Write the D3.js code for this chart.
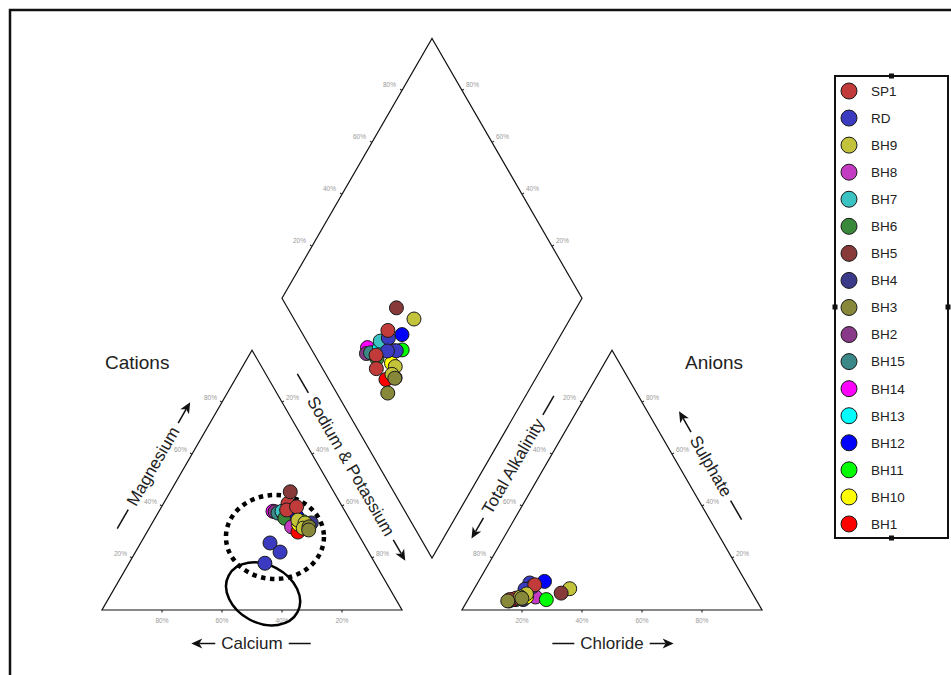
<!DOCTYPE html>
<html><head><meta charset="utf-8">
<script src="https://cdn.jsdelivr.net/npm/d3@7/dist/d3.min.js"></script>
<style>
body{margin:0;background:#fff}
svg{display:block}
text{font-family:"Liberation Sans",Arial,sans-serif}
</style>
</head><body>
<svg id="chart" width="951" height="675"></svg>
<script>
// ---------- DATA ----------
const samples = ["SP1","RD","BH9","BH8","BH7","BH6","BH5","BH4","BH3","BH2","BH15","BH14","BH13","BH12","BH11","BH10","BH1"];
const sampleColors = ["#c23b3b","#3b3bc2","#c2c23b","#c23bc2","#3bc2c2","#3a883a","#883a3a","#3a3a88","#88883a","#883a88","#3a8888","#ff00ff","#00ffff","#0000ff","#00ff00","#ffff00","#ff0000"];
const tickValues = [20,40,60,80];
const tickLabels = ["20%","40%","60%","80%"];

// one entry per analysed water sample (percent of meq)
const pointSample = ["BH14","BH2","BH15","BH13","BH7","BH6","BH4","BH8","BH1","BH12","BH11","BH10","RD","RD","RD","SP1","SP1","SP1","BH9","BH9","BH9","BH3","BH3","BH5"];
const calcium     = [24.0,23.4,22.7,21.0,21.0,21.4,13.5,20.8,19.7,17.0,16.0,18.0,31.1,29.5,36.7,17.5,19.2,15.3,17.4,15.6,17.2,15.0,15.7,14.5];
const magnesium   = [38.0,37.8,37.3,37.0,38.0,35.3,33.5,32.0,30.0,36.0,34.0,33.0,25.8,22.3,18.0,41.0,38.5,39.7,34.6,33.5,31.5,32.0,30.8,45.5];
const sodiumPot   = [38.0,38.8,40.0,42.0,41.0,43.3,53.0,47.2,50.3,47.0,50.0,49.0,43.1,48.2,45.3,41.5,42.3,45.0,48.0,50.9,51.3,53.0,53.5,40.0];
const alkalinity  = [81.0,82.5,81.0,77.0,75.5,80.0,77.6,73.0,81.0,67.0,69.9,76.0,72.2,72.0,75.0,70.9,79.6,82.1,60.0,75.4,78.0,77.8,83.0,63.7];
const sulphate    = [ 4.0, 3.5, 4.0, 5.0, 6.0, 4.0, 4.0, 5.0, 4.0,11.0, 4.0, 5.0,10.4, 9.0, 8.0, 9.7, 4.6, 4.0, 8.2, 6.2, 5.0, 4.5, 3.5, 6.5];
const chloride    = [15.0,14.0,15.0,18.0,18.5,16.0,18.4,22.0,15.0,22.0,26.1,19.0,17.4,19.0,17.0,19.4,15.8,13.9,31.8,18.4,17.0,17.7,13.5,29.8];

// annotation ellipses (centres given as cation composition: Mg %, Na+K %)
const dottedZone = {mg:28.1, nak:43.6};
const solidZone  = {mg:6.2,  nak:50.6};

// ---------- LAYOUT ----------
const svg = d3.select("#chart");
const W = 951, H = 675;
const S60 = Math.sin(Math.PI/3);
const side = d3.scaleLinear().domain([0,100]).range([0,300]);
const baseY = 610, catX0 = 102, gap = 60;
const anX0 = catX0 + side(100) + gap;
const diaLX = catX0 + side(100)/2 + gap/2;
const diaLY = baseY - (gap/2)*Math.tan(Math.PI/3) - side(100)*S60;

const catXY = (mg, nak) => [catX0 + side(nak) + side(mg)/2, baseY - side(mg)*S60];
const anXY  = (so4, cl) => [anX0 + side(cl) + side(so4)/2, baseY - side(so4)*S60];
const diaXY = (nak, alk) => {
  const a = side(nak), b = side(100 - alk);
  return [diaLX + a/2 + b/2, diaLY + (a - b)*S60];
};

svg.append("rect").attr("width",W).attr("height",H).attr("fill","#fff");
// outer frame
svg.append("rect").attr("x",10).attr("y",10).attr("width",W+20).attr("height",H+20)
  .attr("fill","none").attr("stroke","#111").attr("stroke-width",2.5);

const line = d3.line();
const outline = pts => svg.append("path").attr("d", line(pts) + "Z")
  .attr("fill","none").attr("stroke","#111").attr("stroke-width",1.2).attr("stroke-linejoin","miter");

outline([catXY(0,0), catXY(0,100), catXY(100,0)]);
outline([anXY(0,0), anXY(0,100), anXY(100,0)]);
outline([diaXY(0,100), diaXY(100,100), diaXY(100,0), diaXY(0,0)]);

// ---------- TICKS ----------
const tickG = svg.append("g");
function tick(p, dx, dy, anchor, lx, ly, label){
  tickG.append("line").attr("x1",p[0]).attr("y1",p[1]).attr("x2",p[0]+dx).attr("y2",p[1]+dy)
    .attr("stroke","#333").attr("stroke-width",1.2);
  tickG.append("text").attr("x",p[0]+lx).attr("y",p[1]+ly).attr("text-anchor",anchor)
    .style("font-size","6.5px").attr("fill","#999").text(label);
}
tickValues.forEach((v,i)=>{
  const lab = tickLabels[i];
  tick(catXY(v,0), -2, -1.2, "end", -5, -2.5, lab);          // Mg
  tick(catXY(0,100-v), 0, 2.5, "middle", 0, 12.5, lab);      // Ca
  tick(catXY(100-v, v), 2, -1.2, "start", 4, -2.5, lab);     // Na+K
  tick(anXY(100-v,0), -2, -1.2, "end", -6, -2.5, lab);       // alkalinity
  tick(anXY(0,v), 0, 2.5, "middle", 0, 12.5, lab);           // chloride
  tick(anXY(v,100-v), 2, -1.2, "start", 4, -2.5, lab);       // sulphate
  tick(diaXY(0,100-v), -2, -1.2, "end", -6, -3, lab);        // Cl+SO4
  tick(diaXY(100-v,0), 2, -1.2, "start", 4, -3, lab);        // Ca+Mg
});

// ---------- ANNOTATIONS ----------
{
  const c = catXY(dottedZone.mg, dottedZone.nak);
  svg.append("ellipse").attr("cx",c[0]).attr("cy",c[1]).attr("rx",49).attr("ry",42)
    .attr("fill","none").attr("stroke","#000").attr("stroke-width",4.5).attr("stroke-dasharray","4.5,4.5");
  const s = catXY(solidZone.mg, solidZone.nak);
  svg.append("ellipse").attr("cx",0).attr("cy",0).attr("rx",39).attr("ry",29)
    .attr("transform",`translate(${s[0]},${s[1]}) rotate(28)`)
    .attr("fill","none").attr("stroke","#000").attr("stroke-width",2.5);
}

// ---------- POINTS ----------
const colorOf = d3.scaleOrdinal().domain(samples).range(sampleColors);
const pts = pointSample.map((s,i)=>({s, ca:calcium[i], mg:magnesium[i], nak:sodiumPot[i], alk:alkalinity[i], so4:sulphate[i], cl:chloride[i]}));
const R = 7;
const drawDots = (fn) => svg.append("g").selectAll("circle").data(pts).join("circle")
  .attr("cx",d=>fn(d)[0]).attr("cy",d=>fn(d)[1]).attr("r",R)
  .attr("fill",d=>colorOf(d.s)).attr("stroke","#1a1a1a").attr("stroke-width",1);
drawDots(d=>catXY(d.mg,d.nak));
drawDots(d=>anXY(d.so4,d.cl));
drawDots(d=>diaXY(d.nak,d.alk));

// ---------- TITLES ----------
svg.append("text").attr("x",105).attr("y",369).style("font-size","19px").attr("fill","#222").text("Cations");
svg.append("text").attr("x",685).attr("y",369).style("font-size","19px").attr("fill","#222").text("Anions");

function deco(g, x0, dir, type){
  const len = type==="arrow" ? 24 : 22;
  const x1 = x0 + dir*len;
  if(type==="line"){
    g.append("line").attr("x1",x0).attr("y1",0.5).attr("x2",x1).attr("y2",0.5).attr("stroke","#111").attr("stroke-width",1.5);
  } else {
    g.append("line").attr("x1",x0).attr("y1",0.5).attr("x2",x1 - dir*8).attr("y2",0.5).attr("stroke","#111").attr("stroke-width",1.5);
    g.append("path").attr("d",`M${x1},0.5 L${x1-dir*11},-4.5 L${x1-dir*8},0.5 L${x1-dir*11},5.5 Z`).attr("fill","#111");
  }
}
function axisTitle(p, angle, label, left, right){
  const g = svg.append("g").attr("transform",`translate(${p[0]},${p[1]}) rotate(${angle})`);
  const t = g.append("text").attr("text-anchor","middle").attr("dy","0.36em")
    .style("font-size","17px").attr("fill","#222").text(label);
  const w = t.node().getComputedTextLength();
  deco(g, -w/2 - 6, -1, left);
  deco(g,  w/2 + 6,  1, right);
}
const offset = 28;
const mid = (a,b)=>[(a[0]+b[0])/2,(a[1]+b[1])/2];
const out = (p, nx, ny)=>[p[0]+nx*offset, p[1]+ny*offset];
axisTitle(out(mid(catXY(0,0),catXY(100,0)), -S60, -0.5), -60, "Magnesium", "line", "arrow");
axisTitle(out(mid(catXY(100,0),catXY(0,100)), S60, -0.5), 60, "Sodium & Potassium", "line", "arrow");
axisTitle([catXY(0,50)[0], baseY+33], 0, "Calcium", "arrow", "line");
axisTitle(out(mid(anXY(0,0),anXY(100,0)), -S60, -0.5), -60, "Total Alkalinity", "arrow", "line");
axisTitle(out(mid(anXY(100,0),anXY(0,100)), S60, -0.5), 60, "Sulphate", "arrow", "line");
axisTitle([anXY(0,50)[0], baseY+33], 0, "Chloride", "line", "arrow");

// ---------- LEGEND ----------
const lg = svg.append("g");
const lx = 835, ly = 76, lw = 113, lh = 462;
lg.append("rect").attr("x",lx).attr("y",ly).attr("width",lw).attr("height",lh)
  .attr("fill","#fff").attr("stroke","#111").attr("stroke-width",2);
[[lx+lw/2,ly],[lx+lw/2,ly+lh],[lx,ly+lh/2],[lx+lw,ly+lh/2]].forEach(h=>{
  lg.append("rect").attr("x",h[0]-2.5).attr("y",h[1]-2.5).attr("width",5).attr("height",5).attr("fill","#111");
});
const ly0 = 91, lstep = 27.06;
const items = lg.selectAll("g.item").data(samples).join("g").attr("class","item")
  .attr("transform",(d,i)=>`translate(${lx+14},${ly0 + i*lstep})`);
items.append("circle").attr("r",8).attr("fill",d=>colorOf(d)).attr("stroke","#1a1a1a").attr("stroke-width",1);
items.append("text").attr("x",22).attr("dy","0.36em").style("font-size","13.5px").attr("fill","#222").text(d=>d);
</script>
</body></html>
